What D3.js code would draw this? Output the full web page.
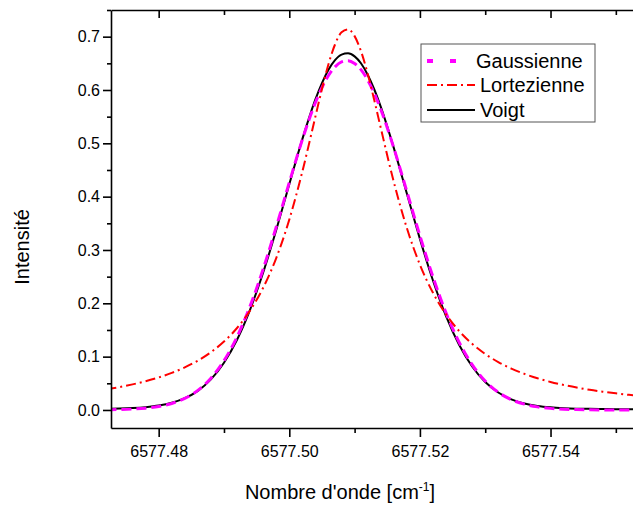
<!DOCTYPE html>
<html>
<head>
<meta charset="utf-8">
<script src="https://cdn.jsdelivr.net/npm/d3@7"></script>
<style>
  body { margin: 0; background: #fff; }
  svg { display: block; font-family: "Liberation Sans", Arial, sans-serif; }
  .axis path, .axis line { stroke: #000; stroke-width: 1.6; }
  .axis text { fill: #000; }
</style>
</head>
<body>
<svg width="633" height="507"></svg>
<script>
// wavenumber samples (cm-1)
const waveNumbers = [
  6577.472, 6577.474, 6577.476, 6577.478, 6577.480, 6577.482, 6577.484, 6577.486,
  6577.488, 6577.490, 6577.492, 6577.494, 6577.496, 6577.498, 6577.500, 6577.502,
  6577.504, 6577.505, 6577.506, 6577.507, 6577.508, 6577.509, 6577.510, 6577.511,
  6577.512, 6577.513, 6577.514, 6577.516, 6577.518, 6577.520, 6577.522, 6577.524,
  6577.526, 6577.528, 6577.530, 6577.532, 6577.534, 6577.536, 6577.538, 6577.540,
  6577.542, 6577.544, 6577.546, 6577.548, 6577.550, 6577.552, 6577.554
];
const gaussienne = [
  0.0004, 0.0008, 0.0017, 0.0034, 0.0066, 0.0122, 0.0217, 0.0368,
  0.0596, 0.0924, 0.1371, 0.1947, 0.2643, 0.3432, 0.4265, 0.5070,
  0.5765, 0.6046, 0.6272, 0.6434, 0.6527, 0.6550, 0.6498, 0.6377,
  0.6189, 0.5940, 0.5639, 0.4915, 0.4098, 0.3269, 0.2495, 0.1821,
  0.1272, 0.0850, 0.0543, 0.0332, 0.0194, 0.0109, 0.0058, 0.0030,
  0.0015, 0.0007, 0.0003, 0.0001, 0.0001, 0.0000, 0.0000
];
const lortezienne = [
  0.0386, 0.0429, 0.0480, 0.0539, 0.0610, 0.0695, 0.0798, 0.0926,
  0.1084, 0.1283, 0.1537, 0.1865, 0.2292, 0.2849, 0.3570, 0.4471,
  0.5503, 0.6018, 0.6484, 0.6853, 0.7081, 0.7136, 0.7010, 0.6720,
  0.6306, 0.5815, 0.5292, 0.4277, 0.3411, 0.2725, 0.2197, 0.1793,
  0.1481, 0.1240, 0.1049, 0.0898, 0.0776, 0.0677, 0.0594, 0.0526,
  0.0469, 0.0420, 0.0378, 0.0343, 0.0312, 0.0284, 0.0261
];
const voigt = [
  0.0022, 0.0027, 0.0036, 0.0053, 0.0082, 0.0134, 0.0221, 0.0359,
  0.0574, 0.0886, 0.1318, 0.1883, 0.2577, 0.3376, 0.4234, 0.5078,
  0.5824, 0.6130, 0.6379, 0.6559, 0.6664, 0.6689, 0.6631, 0.6496,
  0.6287, 0.6014, 0.5687, 0.4914, 0.4061, 0.3209, 0.2427, 0.1759,
  0.1222, 0.0815, 0.0524, 0.0327, 0.0200, 0.0121, 0.0075, 0.0049,
  0.0034, 0.0025, 0.0021, 0.0018, 0.0015, 0.0014, 0.0013
];
const xMajor = [6577.48, 6577.50, 6577.52, 6577.54];
const xMinor = [6577.49, 6577.51, 6577.53, 6577.55];
const yMajor = [0.0, 0.1, 0.2, 0.3, 0.4, 0.5, 0.6, 0.7];
const yMinor = [0.05, 0.15, 0.25, 0.35, 0.45, 0.55, 0.65, 0.75];
const seriesNames = ["Gaussienne", "Lortezienne", "Voigt"];

const svg = d3.select('svg');
const margin = {top: 10, right: -7, bottom: 79, left: 111};
const innerWidth = 633 - margin.left - margin.right;
const innerHeight = 507 - margin.top - margin.bottom;

const xScale = d3.scaleLinear()
  .domain([6577.4727, 6577.5537])
  .range([0, innerWidth]);
const yScale = d3.scaleLinear()
  .domain([-0.0338, 0.75])
  .range([innerHeight, 0]);

const g = svg.append('g')
  .attr('transform', `translate(${margin.left},${margin.top})`);

g.append('clipPath').attr('id', 'clip')
  .append('rect').attr('x', 0).attr('y', -2)
  .attr('width', innerWidth).attr('height', innerHeight + 2);

// curves
const styles = {
  Gaussienne: {data: gaussienne, color: '#ff00ff', width: 3, dash: '10,5'},
  Lortezienne: {data: lortezienne, color: '#ff0000', width: 2, dash: '10,4,2,4'},
  Voigt: {data: voigt, color: '#000000', width: 2, dash: null}
};
const lineGen = vals => d3.line()
  .x((d, i) => xScale(waveNumbers[i]))
  .y(d => yScale(d))
  .curve(d3.curveMonotoneX)(vals);

const curves = g.append('g').attr('clip-path', 'url(#clip)');
['Voigt', 'Gaussienne', 'Lortezienne'].forEach(name => {
  const s = styles[name];
  curves.append('path')
    .attr('d', lineGen(s.data))
    .attr('fill', 'none')
    .attr('stroke', s.color)
    .attr('stroke-width', s.width)
    .attr('stroke-dasharray', s.dash);
});

// axes
const xAxisG = g.append('g').attr('class', 'axis')
  .attr('transform', `translate(0,${innerHeight})`)
  .call(d3.axisBottom(xScale).tickValues(xMajor).tickFormat(d3.format('.2f'))
    .tickSizeInner(9).tickSizeOuter(0).tickPadding(6));
xAxisG.selectAll('text').attr('font-size', 16).attr('dy', '0.9em');

const minorBottom = g.append('g').attr('class', 'axis')
  .attr('transform', `translate(0,${innerHeight})`)
  .call(d3.axisBottom(xScale).tickValues(xMinor).tickFormat('').tickSize(5));
minorBottom.select('.domain').remove();
minorBottom.selectAll('text').remove();

const topMajor = g.append('g').attr('class', 'axis')
  .call(d3.axisTop(xScale).tickValues(xMajor).tickFormat('')
    .tickSizeInner(-8).tickSizeOuter(0));
topMajor.selectAll('text').remove();
const topMinor = g.append('g').attr('class', 'axis')
  .call(d3.axisTop(xScale).tickValues(xMinor).tickFormat('').tickSize(-5));
topMinor.select('.domain').remove();
topMinor.selectAll('text').remove();

const yAxisG = g.append('g').attr('class', 'axis')
  .call(d3.axisLeft(yScale).tickValues(yMajor).tickFormat(d3.format('.1f'))
    .tickSizeInner(8).tickSizeOuter(0).tickPadding(3));
yAxisG.selectAll('text').attr('font-size', 16);
const minorLeft = g.append('g').attr('class', 'axis')
  .call(d3.axisLeft(yScale).tickValues(yMinor).tickFormat('').tickSize(4));
minorLeft.select('.domain').remove();
minorLeft.selectAll('text').remove();

// axis titles
const xTitle = svg.append('text')
  .attr('x', 340).attr('y', 499)
  .attr('text-anchor', 'middle')
  .attr('font-size', 20);
xTitle.append('tspan').text("Nombre d'onde [cm");
xTitle.append('tspan').attr('font-size', 12).attr('dy', -8).text('-1');
xTitle.append('tspan').attr('dy', 8).text(']');

svg.append('text')
  .attr('transform', 'translate(29,247) rotate(-90)')
  .attr('text-anchor', 'middle')
  .attr('font-size', 20)
  .text('Intensité');

// legend
const legend = svg.append('g').attr('transform', 'translate(421,44)');
legend.append('rect')
  .attr('width', 174).attr('height', 78)
  .attr('fill', '#fff').attr('stroke', '#555').attr('stroke-width', 1);
const rowY = [17, 41, 66];
seriesNames.forEach((name, i) => {
  const s = styles[name];
  legend.append('line')
    .attr('x1', 6).attr('x2', name === 'Gaussienne' ? 40 : 54)
    .attr('y1', rowY[i]).attr('y2', rowY[i])
    .attr('stroke', s.color)
    .attr('stroke-width', name === 'Gaussienne' ? 4 : 2)
    .attr('stroke-dasharray', name === 'Gaussienne' ? '6,17' : s.dash);
  legend.append('text')
    .attr('x', name === 'Gaussienne' ? 55 : 59).attr('y', rowY[i] + 7)
    .attr('font-size', 20)
    .text(name);
});
</script>
</body>
</html>
